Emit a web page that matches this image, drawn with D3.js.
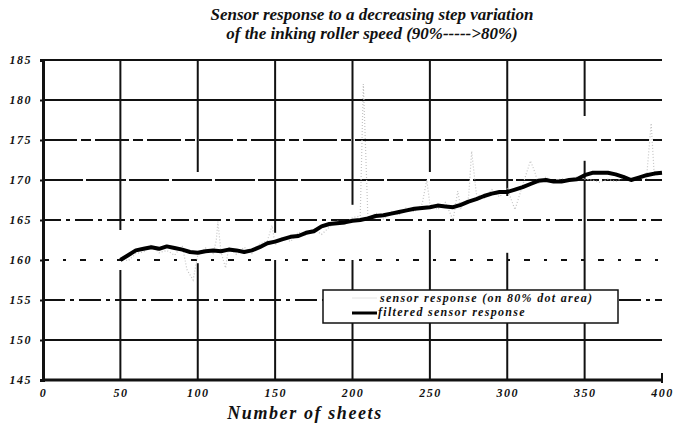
<!DOCTYPE html>
<html>
<head>
<meta charset="utf-8">
<script src="https://cdn.jsdelivr.net/npm/d3@7"></script>
<style>
  body { margin: 0; background: #fff; }
  svg text { font-family: "Liberation Serif", "Times New Roman", serif !important; font-style: italic; font-weight: bold; fill: #111; }
</style>
</head>
<body>
<svg id="chart" width="674" height="426"></svg>
<script>
// chart text
const titleLines = ['Sensor response to a decreasing step variation', 'of the inking roller speed (90%----->80%)'];
const xTitle = 'Number of sheets';
const legendLabels = ['sensor response (on 80% dot area)', 'filtered sensor response'];

// ticks
const xTicks = [0, 50, 100, 150, 200, 250, 300, 350, 400];
const yTicks = [145, 150, 155, 160, 165, 170, 175, 180, 185];

// filtered response, read every 5 sheets
const filteredSheets = [50, 55, 60, 65, 70, 75, 80, 85, 90, 95, 100, 105, 110, 115, 120, 125, 130, 135, 140, 145,
  150, 155, 160, 165, 170, 175, 180, 185, 190, 195, 200, 205, 210, 215, 220, 225, 230, 235, 240, 245,
  250, 255, 260, 265, 270, 275, 280, 285, 290, 295, 300, 305, 310, 315, 320, 325, 330, 335, 340, 345,
  350, 355, 360, 365, 370, 375, 380, 385, 390, 395, 400];
const filteredValues = [160.0, 160.6, 161.2, 161.4, 161.6, 161.4, 161.7, 161.5, 161.3, 161.0, 160.9, 161.1, 161.2, 161.1, 161.3, 161.2, 161.0, 161.2, 161.6, 162.1,
  162.3, 162.6, 162.9, 163.0, 163.4, 163.6, 164.2, 164.5, 164.6, 164.7, 164.9, 165.0, 165.2, 165.5, 165.6, 165.8, 166.0, 166.2, 166.4, 166.5,
  166.6, 166.8, 166.7, 166.6, 166.9, 167.3, 167.6, 168.0, 168.3, 168.5, 168.5, 168.8, 169.1, 169.5, 169.9, 170.0, 169.8, 169.8, 170.0, 170.1,
  170.6, 170.9, 170.9, 170.9, 170.7, 170.4, 170.0, 170.3, 170.6, 170.8, 170.9];

// raw sensor response (faint grey in the scan)
const rawSheets = [50, 55, 60, 65, 70, 75, 80, 85, 90, 93, 97, 100, 105, 110, 112, 113, 115, 118, 120, 125,
  130, 135, 140, 145, 148, 150, 155, 160, 165, 170, 175, 180, 185, 190, 195, 200, 205, 207, 208, 210,
  215, 220, 225, 230, 235, 240, 245, 248, 250, 255, 260, 265, 268, 270, 275, 277, 280, 285, 290, 295,
  300, 305, 310, 315, 318, 320, 325, 330, 335, 340, 345, 350, 355, 360, 365, 370, 375, 380, 385, 390,
  393, 395, 400];
const rawValues = [160.2, 159.9, 160.8, 161.0, 161.9, 160.9, 161.2, 160.6, 161.8, 158.8, 157.5, 160.6, 161.5, 160.8, 162.5, 164.8, 161.0, 159.0, 161.6, 160.7,
  161.6, 160.8, 162.0, 162.4, 164.3, 161.9, 162.9, 162.3, 163.5, 163.1, 163.9, 163.2, 164.1, 164.9, 164.4, 165.3, 165.5, 182.0, 176.5, 165.0,
  165.9, 165.1, 166.1, 165.6, 166.6, 166.0, 167.0, 170.0, 167.0, 166.3, 167.2, 165.0, 168.6, 166.5, 167.8, 173.6, 168.3, 167.7, 168.8, 167.9,
  168.9, 166.3, 169.4, 172.4, 170.9, 169.5, 170.4, 169.6, 170.2, 169.9, 170.4, 170.1, 170.0, 169.7, 170.1, 169.8, 170.3, 169.9, 170.5, 170.2,
  177.1, 170.6, 170.8];

const filtered = filteredSheets.map((s, i) => ({ x: s, y: filteredValues[i] }));
const raw = rawSheets.map((s, i) => ({ x: s, y: rawValues[i] }));

const svg = d3.select('#chart');
const x = d3.scaleLinear().domain([0, 400]).range([43, 662]);
const y = d3.scaleLinear().domain([145, 185]).range([380, 60]);

// title
svg.append('g').selectAll('text')
  .data(titleLines)
  .join('text')
  .attr('x', 372)
  .attr('y', (d, i) => 20 + i * 19)
  .attr('text-anchor', 'middle')
  .style('font-size', '17px')
  .text(d => d);

// horizontal grid, the scan breaks some lines into dashes
const hDash = { 185: null, 180: null, 175: '34,4,10,4', 170: '40,3', 165: '18,5,4,5', 160: '6,14,3,14', 155: '22,5,4,5', 150: null };
svg.append('g').selectAll('line')
  .data(yTicks.filter(t => t > 145))
  .join('line')
  .attr('x1', x(0)).attr('x2', x(400))
  .attr('y1', d => y(d)).attr('y2', d => y(d))
  .attr('stroke', '#111')
  .attr('stroke-width', 2)
  .attr('stroke-dasharray', d => hDash[d]);

// vertical grid, with the gaps the scan left around the curve
const vGaps = { 50: [158.75, 163.75], 100: [159.6, 171], 150: [160, 163.4], 200: [160, 166.9], 250: [163.75, 171], 300: [160.9, 168], 350: [172.4, 178] };
const vSegs = [];
xTicks.filter(t => t > 0 && t < 400).forEach(t => {
  const g = vGaps[t];
  vSegs.push({ x: t, y1: 145, y2: g[0] });
  vSegs.push({ x: t, y1: g[1], y2: 185 });
});
svg.append('g').selectAll('line')
  .data(vSegs)
  .join('line')
  .attr('x1', d => x(d.x)).attr('x2', d => x(d.x))
  .attr('y1', d => y(d.y1)).attr('y2', d => y(d.y2))
  .attr('stroke', '#111')
  .attr('stroke-width', 2);

// axes
const yAxis = svg.append('g')
  .attr('transform', `translate(${x(0)},0)`)
  .call(d3.axisLeft(y).tickValues(yTicks).tickSize(3).tickPadding(8));
const xAxis = svg.append('g')
  .attr('transform', `translate(0,${y(145)})`)
  .call(d3.axisBottom(x).tickValues(xTicks).tickSize(0).tickPadding(8));
[yAxis, xAxis].forEach(a => {
  a.attr('font-family', null);
  a.select('.domain').attr('stroke', '#111').attr('stroke-width', 3);
  a.selectAll('.tick line').attr('stroke', '#111').attr('stroke-width', 2);
  a.selectAll('text').style('font-size', '12px').style('letter-spacing', '1.5px').attr('fill', '#111');
});
xAxis.select('.domain').attr('d', `M${x(0)},0H${x(400)}`);
svg.append('line')
  .attr('x1', x(400)).attr('x2', x(400))
  .attr('y1', y(145) - 7).attr('y2', y(145) + 3)
  .attr('stroke', '#111').attr('stroke-width', 2);

// axis title
svg.append('text')
  .attr('x', 305).attr('y', 419)
  .attr('text-anchor', 'middle')
  .style('font-size', '18px')
  .style('letter-spacing', '1.6px')
  .text(xTitle);

// series
const line = d3.line().x(d => x(d.x)).y(d => y(d.y));
svg.append('path')
  .datum(raw)
  .attr('d', line)
  .attr('fill', 'none')
  .attr('stroke', '#c4c4c4')
  .attr('stroke-width', 1.2)
  .attr('stroke-dasharray', '1,2');
svg.append('path')
  .datum(filtered)
  .attr('d', line)
  .attr('fill', 'none')
  .attr('stroke', '#000')
  .attr('stroke-width', 4)
  .attr('stroke-linejoin', 'round');

// legend
const lg = svg.append('g');
lg.append('rect')
  .attr('x', 323).attr('y', 290).attr('width', 295).attr('height', 33)
  .attr('fill', '#fff').attr('stroke', '#111').attr('stroke-width', 1.5);
lg.append('line')
  .attr('x1', 352).attr('x2', 377).attr('y1', 298).attr('y2', 298)
  .attr('stroke', '#e4e4e4').attr('stroke-width', 1);
lg.append('line')
  .attr('x1', 352).attr('x2', 377).attr('y1', 313).attr('y2', 313)
  .attr('stroke', '#000').attr('stroke-width', 3);
lg.selectAll('text.lbl')
  .data(legendLabels)
  .join('text')
  .attr('class', 'lbl')
  .attr('x', (d, i) => i === 0 ? 380 : 378)
  .attr('y', (d, i) => 302 + i * 14)
  .style('font-size', '12px')
  .style('letter-spacing', '1.3px')
  .text(d => d);
</script>
</body>
</html>
